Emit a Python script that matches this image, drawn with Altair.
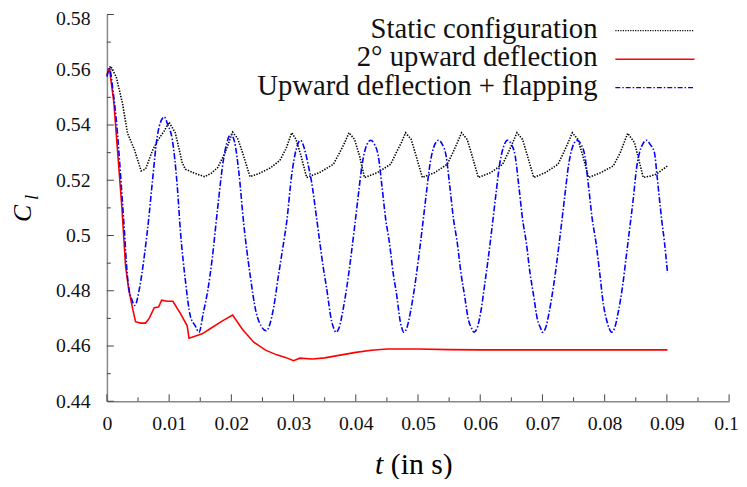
import altair as alt
import pandas as pd

# ---------------- data ----------------
static_t = [0.0002, 0.0006, 0.0015, 0.0025, 0.0033, 0.0044, 0.0055, 0.0062, 0.0073, 0.0081,
            0.0092, 0.0100, 0.0110, 0.0121, 0.0126, 0.0140, 0.0157, 0.0168, 0.0178, 0.0190,
            0.0202, 0.0210, 0.0218, 0.0230, 0.0245, 0.0263, 0.0278, 0.0288, 0.0297, 0.0304,
            0.0312, 0.0321, 0.0342, 0.0364, 0.0374, 0.0382, 0.0389, 0.0398, 0.0406, 0.0414,
            0.0435, 0.0456, 0.0465, 0.0473, 0.0480, 0.0489, 0.0497, 0.0507, 0.0527, 0.0547,
            0.0556, 0.0563, 0.0570, 0.0579, 0.0587, 0.0597, 0.0617, 0.0636, 0.0645, 0.0652,
            0.0659, 0.0668, 0.0676, 0.0686, 0.0705, 0.0725, 0.0734, 0.0741, 0.0748, 0.0757,
            0.0765, 0.0774, 0.0794, 0.0814, 0.0825, 0.0831, 0.0837, 0.0848, 0.0856, 0.0862,
            0.0873, 0.0883, 0.0901]
static_cl = [0.5600, 0.5613, 0.5574, 0.5479, 0.5371, 0.5312, 0.5234, 0.5240, 0.5306, 0.5342,
             0.5378, 0.5410, 0.5371, 0.5264, 0.5240, 0.5226, 0.5213, 0.5226, 0.5246, 0.5300,
             0.5374, 0.5352, 0.5300, 0.5213, 0.5225, 0.5245, 0.5272, 0.5315, 0.5372, 0.5348,
             0.5288, 0.5210, 0.5228, 0.5258, 0.5300, 0.5335, 0.5372, 0.5348, 0.5288, 0.5210,
             0.5228, 0.5258, 0.5300, 0.5335, 0.5372, 0.5348, 0.5288, 0.5210, 0.5228, 0.5258,
             0.5300, 0.5335, 0.5372, 0.5348, 0.5288, 0.5210, 0.5228, 0.5258, 0.5300, 0.5335,
             0.5372, 0.5348, 0.5288, 0.5210, 0.5228, 0.5258, 0.5300, 0.5335, 0.5372, 0.5348,
             0.5288, 0.5210, 0.5228, 0.5252, 0.5300, 0.5335, 0.5370, 0.5336, 0.5264, 0.5210,
             0.5215, 0.5222, 0.5252]

defl_t = [0.0000, 0.0004, 0.0011, 0.0024, 0.0030, 0.0035, 0.0041, 0.0046, 0.0054, 0.0062,
          0.0068, 0.0076, 0.0083, 0.0088, 0.0097, 0.0106, 0.0118, 0.0129, 0.0132, 0.0153,
          0.0169, 0.0185, 0.0202, 0.0218, 0.0236, 0.0255, 0.0273, 0.0288, 0.0300, 0.0310,
          0.0330, 0.0350, 0.0375, 0.0400, 0.0425, 0.0450, 0.0500, 0.0550, 0.0600, 0.0700,
          0.0800, 0.0901]
defl_cl = [0.5580, 0.5605, 0.5485, 0.5103, 0.4888, 0.4805, 0.4739, 0.4688, 0.4683, 0.4683,
           0.4700, 0.4739, 0.4741, 0.4766, 0.4762, 0.4762, 0.4718, 0.4673, 0.4628, 0.4644,
           0.4667, 0.4690, 0.4712, 0.4660, 0.4614, 0.4585, 0.4568, 0.4558, 0.4547, 0.4556,
           0.4553, 0.4557, 0.4567, 0.4577, 0.4585, 0.4589, 0.4589, 0.4587, 0.4586, 0.4586,
           0.4586, 0.4586]

flap_t = [0.0000, 0.0004, 0.0010, 0.0015, 0.0023, 0.0028, 0.0033, 0.0036, 0.0039, 0.0045,
          0.0052, 0.0060, 0.0068, 0.0073, 0.0081, 0.0087, 0.0092, 0.0098, 0.0105, 0.0113,
          0.0118, 0.0126, 0.0134, 0.0142, 0.0148, 0.0155, 0.0162, 0.0169, 0.0178, 0.0187,
          0.0194, 0.0199, 0.0205, 0.0212, 0.0220, 0.0230, 0.0240, 0.0248, 0.0256, 0.0262,
          0.0268, 0.0276, 0.0283, 0.0289, 0.0297, 0.0304, 0.0311, 0.0318, 0.0324, 0.0329,
          0.0336, 0.0342, 0.0348, 0.0353, 0.0361, 0.0365, 0.0368,
          0.0373, 0.0379, 0.0386, 0.0392, 0.0398, 0.0404, 0.0410, 0.0416, 0.0424, 0.0430,
          0.0436, 0.0442, 0.0448, 0.0454, 0.0460, 0.0466, 0.0471, 0.0474, 0.0477,
          0.0482, 0.0488, 0.0495, 0.0501, 0.0507, 0.0513, 0.0519, 0.0525, 0.0533, 0.0539,
          0.0545, 0.0551, 0.0557, 0.0563, 0.0569, 0.0575, 0.0581, 0.0586, 0.0590,
          0.0595, 0.0601, 0.0607, 0.0613, 0.0619, 0.0625, 0.0631, 0.0637, 0.0644, 0.0650,
          0.0656, 0.0662, 0.0668, 0.0674, 0.0680, 0.0686, 0.0692, 0.0697, 0.0700,
          0.0705, 0.0711, 0.0718, 0.0724, 0.0730, 0.0736, 0.0742, 0.0748, 0.0756, 0.0762,
          0.0768, 0.0774, 0.0780, 0.0786, 0.0792, 0.0798, 0.0803, 0.0807, 0.0811,
          0.0816, 0.0822, 0.0829, 0.0835, 0.0841, 0.0846, 0.0851, 0.0856, 0.0861, 0.0867,
          0.0873, 0.0880, 0.0884, 0.0888, 0.0892, 0.0896, 0.0901]
flap_cl = [0.5575, 0.5604, 0.5520, 0.5420, 0.5185, 0.5020, 0.4852, 0.4799, 0.4775, 0.4747,
           0.4805, 0.4924, 0.5079, 0.5193, 0.5360, 0.5415, 0.5429, 0.5400, 0.5348, 0.5180,
           0.5020, 0.4840, 0.4709, 0.4673, 0.4650, 0.4721, 0.4800, 0.4912, 0.5100, 0.5270,
           0.5345, 0.5366, 0.5340, 0.5230, 0.5040, 0.4860, 0.4720, 0.4672, 0.4655, 0.4680,
           0.4740, 0.4860, 0.4960, 0.5050, 0.5220, 0.5310, 0.5345, 0.5310, 0.5250, 0.5193,
           0.5080, 0.4978, 0.4880, 0.4811, 0.4691, 0.4662, 0.4650,
           0.4665, 0.4725, 0.4820, 0.4920, 0.5030, 0.5145, 0.5255, 0.5318, 0.5345, 0.5330,
           0.5290, 0.5180, 0.5060, 0.4975, 0.4865, 0.4780, 0.4695, 0.4665, 0.4650,
           0.4665, 0.4725, 0.4820, 0.4920, 0.5030, 0.5145, 0.5255, 0.5318, 0.5345, 0.5330,
           0.5290, 0.5180, 0.5060, 0.4975, 0.4865, 0.4780, 0.4695, 0.4665, 0.4650,
           0.4665, 0.4725, 0.4820, 0.4920, 0.5030, 0.5145, 0.5255, 0.5318, 0.5345, 0.5330,
           0.5290, 0.5180, 0.5060, 0.4975, 0.4865, 0.4780, 0.4695, 0.4665, 0.4650,
           0.4665, 0.4725, 0.4820, 0.4920, 0.5030, 0.5145, 0.5255, 0.5318, 0.5345, 0.5330,
           0.5290, 0.5180, 0.5060, 0.4975, 0.4865, 0.4750, 0.4695, 0.4665, 0.4650,
           0.4665, 0.4725, 0.4820, 0.4930, 0.5040, 0.5133, 0.5240, 0.5300, 0.5330, 0.5345,
           0.5330, 0.5300, 0.5220, 0.5133, 0.5050, 0.4978, 0.4865]

series_names = ["Static configuration", "2\u00b0 upward deflection", "Upward deflection + flapping"]

x_major = [0.0, 0.01, 0.02, 0.03, 0.04, 0.05, 0.06, 0.07, 0.08, 0.09, 0.1]
x_minor = [0.005, 0.015, 0.025, 0.035, 0.045, 0.055, 0.065, 0.075, 0.085, 0.095]
y_major = [0.44, 0.46, 0.48, 0.50, 0.52, 0.54, 0.56, 0.58]
y_minor = [0.45, 0.47, 0.49, 0.51, 0.53, 0.55, 0.57]

FONT = "Liberation Serif"
W, H = 629, 391

xscale = alt.Scale(domain=[0, 0.1], nice=False, zero=False)
yscale = alt.Scale(domain=[0.44, 0.58], nice=False, zero=False)

static_df = pd.DataFrame({"t": static_t, "cl": static_cl})
defl_df = pd.DataFrame({"t": defl_t, "cl": defl_cl})
flap_df = pd.DataFrame({"t": flap_t, "cl": flap_cl})

xaxis = alt.Axis(values=x_major, format="~g", tickSize=0, labelPadding=13,
                 labelFont=FONT, labelFontSize=20, labelColor="#111", grid=False,
                 domainColor="#888", domainWidth=1.5, title=None, labelFlush=False,
                 labelOffset={"condition": {"test": "datum.value > 0.099", "value": -3}, "value": 0})
yaxis = alt.Axis(values=y_major, format="~g", tickSize=0, labelPadding=17,
                 labelFont=FONT, labelFontSize=20, labelColor="#111", grid=False,
                 domainColor="#888", domainWidth=1.5, title=None,
                 labelOffset={"condition": {"test": "datum.value > 0.579", "value": 4}, "value": 0})

X = alt.X("t:Q", scale=xscale, axis=xaxis)
Y = alt.Y("cl:Q", scale=yscale, axis=yaxis)

static_line = alt.Chart(static_df).mark_line(
    color="black", strokeWidth=1.6, strokeDash=[1.4, 1.4], interpolate="linear"
).encode(x=X, y=Y)

defl_line = alt.Chart(defl_df).mark_line(
    color="#ff0000", strokeWidth=1.6, interpolate="linear"
).encode(x=X, y=Y)

flap_line = alt.Chart(flap_df).mark_line(
    color="#0000ff", strokeWidth=1.6, strokeDash=[6, 2, 1.5, 2], interpolate="monotone"
).encode(x=X, y=Y)

# inward ticks
def yticks(vals, length):
    return alt.Chart(pd.DataFrame({"cl": vals})).mark_rule(color="#444", strokeWidth=1).encode(
        y=Y, x=alt.value(0), x2=alt.value(length))

def xticks(vals, length):
    return alt.Chart(pd.DataFrame({"t": vals})).mark_rule(color="#444", strokeWidth=1).encode(
        x=X, y=alt.value(H), y2=alt.value(H - length))

# axis titles
one = pd.DataFrame({"a": [0]})
cl_C = alt.Chart(one).mark_text(text="C", font=FONT, fontSize=26, fontStyle="italic",
                                angle=270, align="center", baseline="middle").encode(
    x=alt.value(-85), y=alt.value(201))
cl_l = alt.Chart(one).mark_text(text="l", font=FONT, fontSize=19, fontStyle="italic",
                                angle=270, align="center", baseline="middle").encode(
    x=alt.value(-76), y=alt.value(185))
t_it = alt.Chart(one).mark_text(text="t", font=FONT, fontSize=30, fontStyle="italic",
                                align="left", baseline="middle").encode(
    x=alt.value(271), y=alt.value(456))
t_rest = alt.Chart(one).mark_text(text="(in s)", font=FONT, fontSize=30,
                                  align="left", baseline="middle").encode(
    x=alt.value(287), y=alt.value(456))

# legend
legend_layers = []
leg_text_y = [24, 52.5, 81]
leg_line_y = [16.3, 45.3, 74]
leg_styles = [
    dict(color="black", strokeWidth=1.3, strokeDash=[1.2, 1.3]),
    dict(color="#ff0000", strokeWidth=1.6),
    dict(color="#0000ff", strokeWidth=1.3, strokeDash=[5, 2, 1.5, 2]),
]
for name, ty, ly, st in zip(series_names, leg_text_y, leg_line_y, leg_styles):
    legend_layers.append(
        alt.Chart(one).mark_text(text=name, font=FONT, fontSize=29, align="right",
                                 baseline="alphabetic", color="#111").encode(
            x=alt.value(496), y=alt.value(ty)))
    legend_layers.append(
        alt.Chart(one).mark_rule(**st).encode(
            x=alt.value(514), x2=alt.value(594), y=alt.value(ly)))

chart = alt.layer(
    static_line, defl_line, flap_line,
    yticks(y_major, 7), yticks(y_minor, 4), xticks(x_major, 7), xticks(x_minor, 4),
    cl_C, cl_l, t_it, t_rest, *legend_layers
).properties(
    width=W, height=H,
    autosize=alt.AutoSizeParams(type="none"),
    padding={"left": 100, "top": 4, "right": 10, "bottom": 76},
).configure(font=FONT).configure_text(font=FONT).configure_axis(
    labelFont=FONT, titleFont=FONT
).configure_view(strokeOpacity=0)

chart.save("out.html", embed_options={"renderer": "svg", "actions": False})
